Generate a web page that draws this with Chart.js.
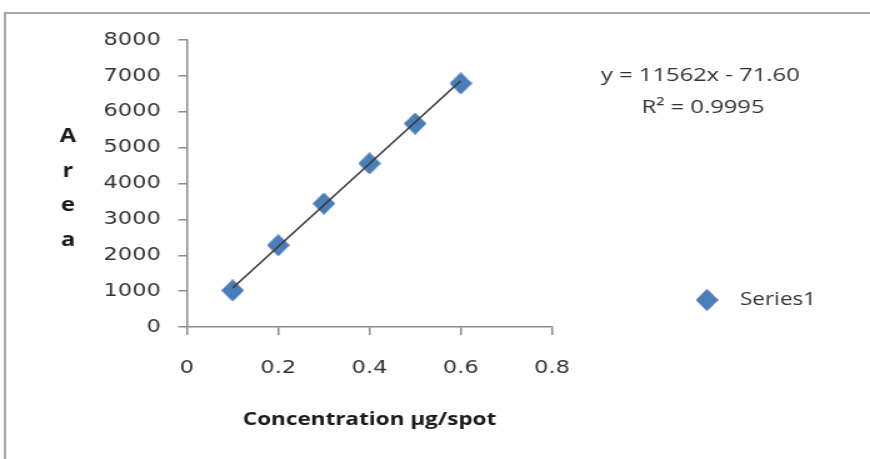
<!DOCTYPE html>
<html>
<head>
<meta charset="utf-8">
<script src="https://cdn.jsdelivr.net/npm/chart.js@4/dist/chart.umd.min.js"></script>
<style>
  html, body { margin: 0; padding: 0; background: #fff; overflow: hidden; }
  /* drawn narrow, shown wide */
  #chartCanvas { display: block; transform: scaleX(1.25); transform-origin: 0 0; }
</style>
</head>
<body>
<canvas id="chartCanvas" width="696" height="459"></canvas>
<script>
// calibration points
const concentration = [0.1, 0.2, 0.3, 0.4, 0.5, 0.6];
const area = [1020, 2280, 3440, 4560, 5670, 6790];

// linear trendline
const fitSlope = 11562;
const fitIntercept = -71.60;
const fitR2 = '0.9995';
const fitRange = [0.1, 0.6];

const seriesName = 'Series1';
const xTitle = 'Concentration µg/spot';
const yTitle = ['A', 'r', 'e', 'a'];

// diamond marker, pre-squeezed so it ends up square after the css stretch
function makeDiamond() {
    const c = document.createElement('canvas');
    c.width = 18;
    c.height = 22;
    const g = c.getContext('2d');
    g.beginPath();
    g.moveTo(9, 0.5);
    g.lineTo(17.5, 11);
    g.lineTo(9, 21.5);
    g.lineTo(0.5, 11);
    g.closePath();
    g.fillStyle = '#4a7ebb';
    g.fill();
    g.strokeStyle = '#3f72ad';
    g.lineWidth = 1;
    g.stroke();
    return c;
}
const diamond = makeDiamond();

// frame, vertical axis title, equation and legend
const decorations = {
    id: 'decorations',
    beforeDraw(chart) {
        const ctx = chart.ctx;
        ctx.save();
        ctx.fillStyle = '#fff';
        ctx.fillRect(0, 0, chart.width, chart.height);
        ctx.strokeStyle = '#a8a8a8';
        ctx.lineWidth = 2;
        ctx.beginPath();
        ctx.moveTo(4, chart.height);
        ctx.lineTo(4, 13);
        ctx.lineTo(chart.width, 13);
        ctx.stroke();
        ctx.restore();
    },
    afterDraw(chart) {
        const ctx = chart.ctx;
        ctx.save();
        ctx.textBaseline = 'middle';

        ctx.fillStyle = '#1a1a1a';
        ctx.textAlign = 'center';
        ctx.font = 'bold 19px "Open Sans"';
        yTitle.forEach((ch, i) => ctx.fillText(ch, 54.4, 137 + i * 34.5));

        ctx.fillStyle = '#333';
        ctx.font = '19px "Open Sans"';
        ctx.textAlign = 'left';
        ctx.fillText(`y = ${fitSlope}x - ${Math.abs(fitIntercept).toFixed(2)}`, 480.8, 76);
        ctx.textAlign = 'center';
        ctx.fillText(`R² = ${fitR2}`, 562.4, 108);

        ctx.drawImage(diamond, 565.6 - diamond.width / 2, 300 - diamond.height / 2);
        ctx.textAlign = 'left';
        ctx.font = '18px "Open Sans"';
        ctx.fillText(seriesName, 592, 300);
        ctx.restore();
    }
};

const axisGray = '#8c8c8c';
const ctx = document.getElementById('chartCanvas').getContext('2d');

const chart = new Chart(ctx, {
    type: 'scatter',
    data: {
        datasets: [{
            label: 'Linear (' + seriesName + ')',
            data: fitRange.map(x => ({ x: x, y: fitSlope * x + fitIntercept })),
            showLine: true,
            borderColor: '#3a3a3a',
            borderWidth: 1.5,
            pointRadius: 0,
            order: 0
        }, {
            label: seriesName,
            data: concentration.map((x, i) => ({ x: x, y: area[i] })),
            pointStyle: diamond,
            pointRadius: 10,
            order: 1
        }]
    },
    options: {
        responsive: false,
        animation: false,
        layout: { padding: { left: 0, top: 40, right: 254.4, bottom: 0 } },
        plugins: {
            legend: { display: false },
            tooltip: { enabled: false }
        },
        scales: {
            x: {
                type: 'linear',
                min: 0,
                max: 0.8,
                ticks: {
                    stepSize: 0.2,
                    padding: 23,
                    color: '#333',
                    font: { family: 'DejaVu Sans', size: 18 },
                    callback: v => String(+v.toFixed(1))
                },
                grid: { drawOnChartArea: false, tickLength: 8, color: axisGray, lineWidth: 1.5 },
                border: { color: axisGray, width: 1.5 },
                title: {
                    display: true,
                    text: xTitle,
                    color: '#1a1a1a',
                    font: { family: 'Open Sans', size: 18, weight: 'bold' },
                    padding: { top: 0, bottom: 28 }
                },
                afterFit(scale) { scale.height = 132; }
            },
            y: {
                min: 0,
                max: 8000,
                ticks: {
                    stepSize: 1000,
                    padding: 14,
                    color: '#333',
                    font: { family: 'DejaVu Sans', size: 18 },
                    callback: v => String(v)
                },
                grid: { drawOnChartArea: false, tickLength: 7, color: axisGray, lineWidth: 1.5 },
                border: { color: axisGray, width: 1.5 },
                afterFit(scale) { scale.width = 149.6; }
            }
        }
    },
    plugins: [decorations]
});
</script>
</body>
</html>
